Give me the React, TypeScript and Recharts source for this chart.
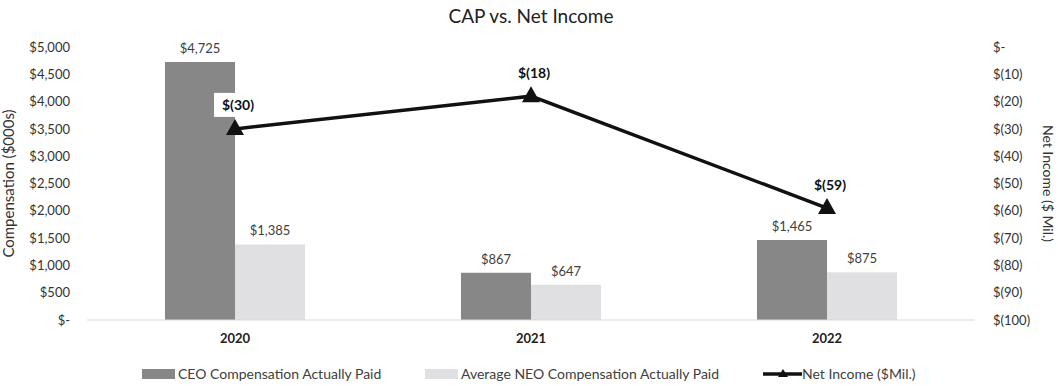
import React from "react";
import {
  ComposedChart,
  Bar,
  Line,
  XAxis,
  YAxis,
  Legend,
  LabelList,
  Label,
} from "recharts";

const years = ["2020", "2021", "2022"];
const ceoCap = [4725, 867, 1465];
const neoCap = [1385, 647, 875];
const netIncome = [-30, -18, -59];

const leftTicks = [0, 500, 1000, 1500, 2000, 2500, 3000, 3500, 4000, 4500, 5000];
const rightTicks = [-100, -90, -80, -70, -60, -50, -40, -30, -20, -10, 0];

const data = years.map((year, i) => ({
  year,
  ceo: ceoCap[i],
  neo: neoCap[i],
  income: netIncome[i],
}));

const FONT = "Lato, 'Open Sans', sans-serif";
const CEO_COLOR = "#878787";
const NEO_COLOR = "#e0e0e2";

const fmtComp = (v: number) => (v === 0 ? "$-" : "$" + v.toLocaleString("en-US"));
const fmtIncome = (v: number) => (v === 0 ? "$-" : `$(${Math.abs(v)})`);

function Triangle(props: any) {
  const { cx, cy } = props;
  if (cx == null || cy == null) return null;
  return (
    <path
      d={`M${cx},${cy - 10} L${cx + 9},${cy + 6} L${cx - 9},${cy + 6} Z`}
      fill="#111"
    />
  );
}

function IncomeLabel(props: any) {
  const { x, y, value } = props;
  const text = fmtIncome(value);
  const lx = x + 3;
  const ly = y - 24;
  return (
    <g>
      <rect x={lx - 24} y={ly - 12} width={48} height={24} fill="#fff" />
      <text
        x={lx}
        y={ly}
        textAnchor="middle"
        dominantBaseline="central"
        fontFamily={FONT}
        fontSize={14}
        fontWeight="bold"
        fill="#111"
      >
        {text}
      </text>
    </g>
  );
}

function LegendContent() {
  const item = { display: "flex", alignItems: "center", position: "absolute" as const, top: 3 };
  return (
    <div
      style={{
        height: 24,
        position: "relative",
        fontFamily: FONT,
        fontSize: 14,
        color: "#404040",
        whiteSpace: "nowrap",
      }}
    >
      <div style={{ ...item, left: 142 }}>
        <span style={{ width: 33, height: 10, background: CEO_COLOR, marginRight: 3 }} />
        CEO Compensation Actually Paid
      </div>
      <div style={{ ...item, left: 425 }}>
        <span style={{ width: 33, height: 10, background: NEO_COLOR, marginRight: 3 }} />
        Average NEO Compensation Actually Paid
      </div>
      <div style={{ ...item, left: 763 }}>
        <svg width={39} height={12}>
          <line x1={0} y1={6} x2={39} y2={6} stroke="#111" strokeWidth={3.5} />
          <path d="M20,1 L25,9 L15,9 Z" fill="#111" />
        </svg>
        Net Income ($Mil.)
      </div>
    </div>
  );
}

export default function App() {
  return (
    <div
      style={{
        position: "absolute",
        left: 0,
        top: 0,
        width: 1058,
        height: 386,
        background: "#fff",
      }}
    >
      <div
        style={{
          position: "absolute",
          left: 0,
          width: 1062,
          top: 4,
          textAlign: "center",
          fontFamily: FONT,
          fontSize: 19,
          color: "#222",
        }}
      >
        CAP vs. Net Income
      </div>
      <ComposedChart
        width={1058}
        height={386}
        data={data}
        margin={{ top: 47, right: 0, bottom: 0, left: 0 }}
        barGap={0}
      >
        <XAxis
          dataKey="year"
          tickLine={false}
          axisLine={{ stroke: "#d9d9d9" }}
          tickSize={0}
          tickMargin={14}
          height={42}
          tick={{ fontFamily: FONT, fontSize: 13, fontWeight: "bold", fill: "#222" }}
        />
        <YAxis
          yAxisId="left"
          orientation="left"
          width={87}
          domain={[0, 5000]}
          ticks={leftTicks}
          tickFormatter={fmtComp}
          axisLine={false}
          tickLine={false}
          tickSize={0}
          tickMargin={17}
          tick={{ fontFamily: FONT, fontSize: 13, fill: "#333" }}
        >
          <Label
            value="Compensation ($000s)"
            angle={-90}
            position="insideLeft"
            offset={9}
            textAnchor="middle"
            style={{ fontFamily: FONT, fontSize: 15, fill: "#333", textAnchor: "middle" }}
          />
        </YAxis>
        <YAxis
          yAxisId="right"
          orientation="right"
          width={83}
          domain={[-100, 0]}
          ticks={rightTicks}
          tickFormatter={fmtIncome}
          axisLine={false}
          tickLine={false}
          tickSize={0}
          tickMargin={18}
          tick={{ fontFamily: FONT, fontSize: 13, fill: "#333" }}
        >
          <Label
            value="Net Income ($ Mil.)"
            angle={90}
            position="insideRight"
            offset={10}
            textAnchor="middle"
            style={{ fontFamily: FONT, fontSize: 14, fill: "#333", textAnchor: "middle" }}
          />
        </YAxis>
        <Legend verticalAlign="bottom" height={24} content={<LegendContent />} />
        <Bar
          yAxisId="left"
          dataKey="ceo"
          name="CEO Compensation Actually Paid"
          fill={CEO_COLOR}
          barSize={70}
          isAnimationActive={false}
        >
          <LabelList
            dataKey="ceo"
            position="top"
            offset={9}
            formatter={(v: any) => fmtComp(Number(v))}
            style={{ fontFamily: FONT, fontSize: 13, fill: "#404040" }}
          />
        </Bar>
        <Bar
          yAxisId="left"
          dataKey="neo"
          name="Average NEO Compensation Actually Paid"
          fill={NEO_COLOR}
          barSize={70}
          isAnimationActive={false}
        >
          <LabelList
            dataKey="neo"
            position="top"
            offset={9}
            formatter={(v: any) => fmtComp(Number(v))}
            style={{ fontFamily: FONT, fontSize: 13, fill: "#404040" }}
          />
        </Bar>
        <Line
          yAxisId="right"
          dataKey="income"
          name="Net Income ($Mil.)"
          stroke="#111"
          strokeWidth={3.5}
          dot={<Triangle />}
          activeDot={false}
          isAnimationActive={false}
        >
          <LabelList dataKey="income" content={<IncomeLabel />} />
        </Line>
      </ComposedChart>
    </div>
  );
}
